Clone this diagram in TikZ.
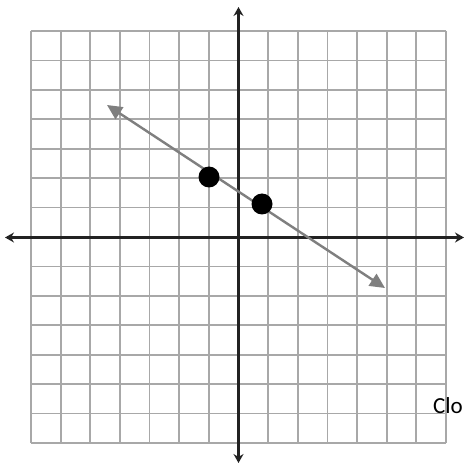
\documentclass[tikz,border=0pt]{standalone}
\usepackage{fontspec}
\setmainfont{Carlito}
\usetikzlibrary{arrows.meta}
\definecolor{gridgray}{HTML}{A8A8A8}
\definecolor{axisdark}{HTML}{222222}
\definecolor{linegray}{HTML}{7F7F7F}
\tikzset{
  gridline/.style={draw=gridgray, line width=1.8pt},
  axisline/.style={draw=axisdark, line width=2.6pt, {Stealth[length=9pt,width=10pt,inset=3pt]}-{Stealth[length=9pt,width=10pt,inset=3pt]}},
  graphline/.style={draw=linegray, line width=2.4pt, {Triangle[length=15pt,width=14pt]}-{Triangle[length=15pt,width=14pt]}},
  dotnode/.style={circle, fill=black, inner sep=0pt, minimum size=21pt},
  lbl/.style={font=\fontsize{23}{26}\selectfont, inner sep=0pt, anchor=base west}
}
\begin{document}
\begin{tikzpicture}[x=1pt,y=-1pt]
\useasboundingbox (0,0) rectangle (466,465);
\fill[white] (0,0) rectangle (466,465);
% grid
\foreach \i in {0,...,14} {
  \draw[gridline] ({31+29.64*\i},31) -- ({31+29.64*\i},443);
  \draw[gridline] (31,{31+29.43*\i}) -- (446,{31+29.43*\i});
}
% axes
\coordinate (xl) at (5,237.5);
\coordinate (xr) at (464,237.5);
\coordinate (yt) at (238.5,7);
\coordinate (yb) at (238.5,463);
\draw[axisline] (xl) -- (xr);
\draw[axisline] (yb) -- (yt);
% graph line
\coordinate (la) at (107,105);
\coordinate (lb) at (385,288);
\draw[graphline] (la) -- (lb);
% dots
\node[dotnode] (p1) at (209,177) {};
\node[dotnode] (p2) at (262,204) {};
% text
\node[lbl] (t) at (433,413) {Clo};
\end{tikzpicture}
\end{document}
